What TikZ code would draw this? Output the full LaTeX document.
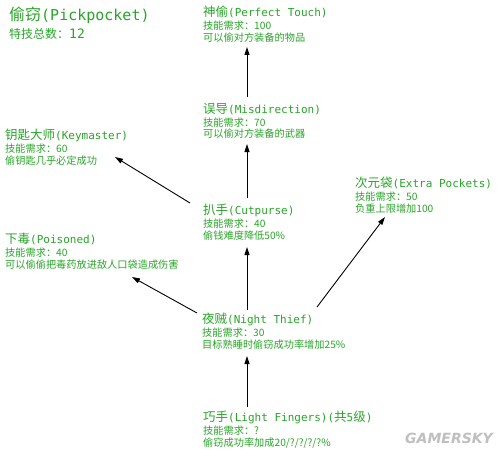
\documentclass[tikz,border=0pt]{standalone}
\usepackage{fontspec}
\setmainfont{DejaVu Sans Mono}
\newfontfamily\cjk{Noto Sans CJK SC}
\newfontfamily\wmfont{DejaVu Sans}
\usetikzlibrary{arrows.meta}
\definecolor{skillgreen}{RGB}{40,165,40}
\newcommand\cj[1]{{\cjk\fontsize{12.5}{13}\selectfont #1}}
\newcommand\lt[1]{{\rmfamily\fontsize{11}{13}\selectfont #1}}
\tikzset{
  skill/.style={anchor=north west, inner sep=0pt, align=left, text=skillgreen,
    font=\cjk\fontsize{10.2}{11.8}\selectfont},
  arr/.style={draw=black, line width=0.9pt, -{Triangle[length=8pt,width=5pt]}}
}
\begin{document}
\begin{tikzpicture}[x=1pt,y=-1pt]
\fill[white] (0,0) rectangle (500,452);
% title
\node[skill, font=\cjk\fontsize{12}{17}\selectfont] (title) at (9,7)
  {{\cjk\fontsize{16}{17}\selectfont 偷窃}{\rmfamily\fontsize{15}{17}\selectfont(Pickpocket)}\\[1pt]
   特技总数：{\rmfamily\fontsize{13}{17}\selectfont 12}};
% skills
\node[skill] (perfect) at (203,6)
  {\cj{神偷}\lt{(Perfect Touch)}\\[1pt] 技能需求：100\\ 可以偷对方装备的物品};
\node[skill] (misdir) at (203,103)
  {\cj{误导}\lt{(Misdirection)}\\[1pt] 技能需求：70\\ 可以偷对方装备的武器};
\node[skill] (keymaster) at (5,129)
  {\cj{钥匙大师}\lt{(Keymaster)}\\[1pt] 技能需求：60\\ 偷钥匙几乎必定成功};
\node[skill] (cutpurse) at (203,204)
  {\cj{扒手}\lt{(Cutpurse)}\\[1pt] 技能需求：40\\ 偷钱难度降低50\%};
\node[skill] (extra) at (355,177)
  {\cj{次元袋}\lt{(Extra Pockets)}\\[1pt] 技能需求：50\\ 负重上限增加100};
\node[skill] (poisoned) at (5,233)
  {\cj{下毒}\lt{(Poisoned)}\\[1pt] 技能需求：40\\ 可以偷偷把毒药放进敌人口袋造成伤害};
\node[skill] (night) at (202,313)
  {\cj{夜贼}\lt{(Night Thief)}\\[1pt] 技能需求：30\\ 目标熟睡时偷窃成功率增加25\%};
\node[skill] (light) at (203,411)
  {\cj{巧手}\lt{(Light Fingers)(}\cj{共}\lt{5}\cj{级}\lt{)}\\[1pt] 技能需求：?\\ 偷窃成功率加成20/?/?/?/?\%};
% watermark
\node[anchor=west, inner sep=0pt, text=black!25, font=\wmfont\bfseries\itshape\fontsize{14}{14}\selectfont] (wm) at (405,438) {GAMERSKY};
% connectors
\draw[arr] ([xshift=44pt,yshift=6pt]misdir.north west) -- ([xshift=44pt,yshift=-41pt]perfect.north west);
\draw[arr] ([xshift=44pt,yshift=6pt]cutpurse.north west) -- ([xshift=44pt,yshift=-41pt]misdir.north west);
\draw[arr] ([xshift=45pt,yshift=3pt]night.north west) -- ([xshift=44pt,yshift=-43pt]cutpurse.north west);
\draw[arr] ([xshift=44pt,yshift=4pt]light.north west) -- ([xshift=45pt,yshift=-43pt]night.north west);
\draw[arr] ([xshift=-13pt,yshift=1pt]cutpurse.north west) -- ([xshift=110pt,yshift=-28pt]keymaster.north west);
\draw[arr] ([xshift=-5pt,yshift=0pt]night.north west) -- ([xshift=127pt,yshift=-44pt]poisoned.north west);
\draw[arr] ([xshift=115pt,yshift=6pt]night.north west) -- ([xshift=30pt,yshift=-40pt]extra.north west);
\end{tikzpicture}
\end{document}
